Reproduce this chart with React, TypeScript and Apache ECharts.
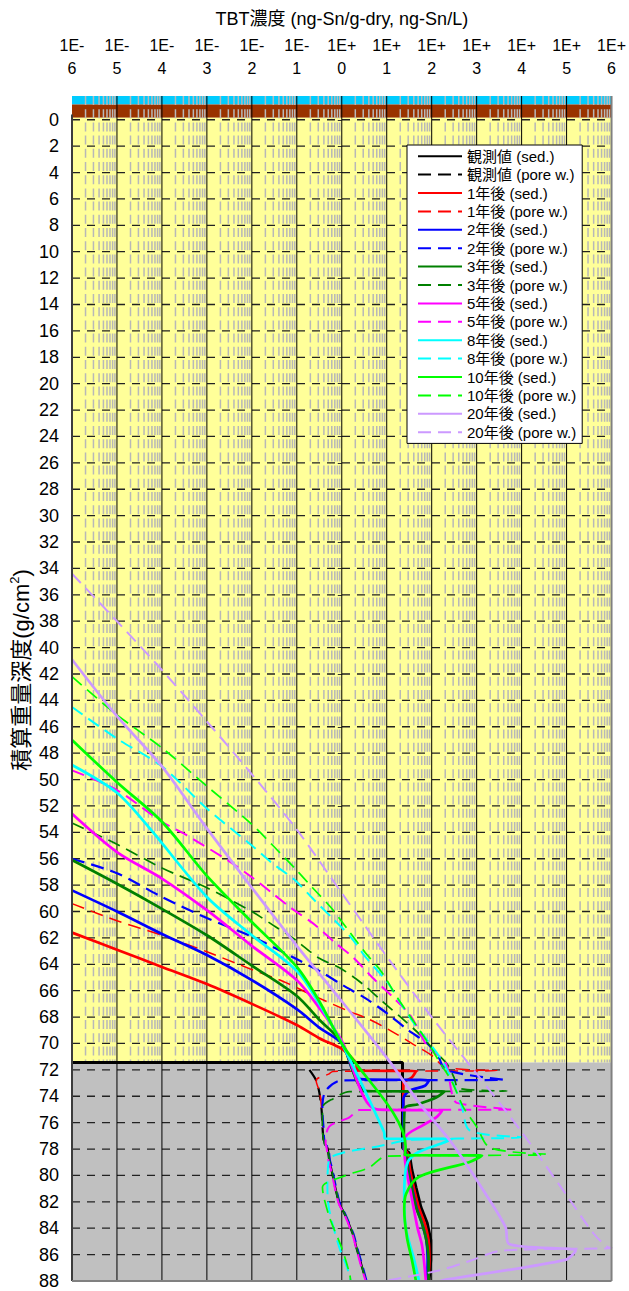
import React, { useEffect, useRef } from 'react';
import * as echarts from 'echarts';

const FONT = "'Liberation Sans', Arial, 'Noto Sans CJK JP', sans-serif";

// ---- axis tick labels ----
const X_EXPONENTS = [-6, -5, -4, -3, -2, -1, 0, 1, 2, 3, 4, 5, 6];
const DEPTH_TICKS = [0, 2, 4, 6, 8, 10, 12, 14, 16, 18, 20, 22, 24, 26, 28, 30, 32, 34, 36, 38, 40, 42, 44, 46, 48, 50, 52, 54, 56, 58, 60, 62, 64, 66, 68, 70, 72, 74, 76, 78, 80, 82, 84, 86, 88];
const DECADE_BASES = [1e-6, 1e-5, 1e-4, 1e-3, 1e-2, 1e-1, 1, 10, 100, 1e3, 1e4, 1e5];
const MINOR_STEPS = [2, 3, 4, 5, 6, 7, 8, 9];
const X_MIN = 1e-6;
const X_MAX = 1e6;
const Y_TOP = -1.8;
const Y_BOTTOM = 88;
const SURFACE = 71.45; // sediment surface (yellow / gray boundary)

// ---- data: [concentration, cumulative weight depth] ----
const OBS_SED = [[1e-6, 71.45], [22.4, 71.45], [22.4, 77.9], [31.6, 78.3], [36.3, 79.6], [44.7, 80.9], [57.5, 82.4], [79.4, 83.6], [95.5, 84.9], [95.5, 86.4], [87.1, 88]];
const OBS_PORE = [[0.191, 72.0], [0.269, 72.8], [0.316, 73.7], [0.355, 75.0], [0.372, 76.3], [0.407, 77.6], [0.479, 77.9], [0.525, 78.8], [0.575, 79.4], [0.871, 82.1], [1.15, 82.9], [1.74, 84.4], [2.09, 85.4], [2.69, 86.7], [3.47, 88]];

const Y1_SED = [[1e-6, 61.6], [1e-5, 62.9], [1e-4, 64.2], [1e-3, 65.5], [0.01, 67.0], [0.1, 68.6], [0.316, 69.6], [1, 70.4], [1.58, 71.0], [2.09, 71.5], [2.24, 72.05], [44.7, 72.1], [35.5, 72.6], [23.4, 73.0], [23.4, 77.9], [28.8, 78.3], [33.1, 79.6], [39.8, 80.9], [51.3, 82.4], [69.2, 83.6], [85.1, 84.9], [89.1, 86.4], [83.2, 88]];
const Y1_PORE = [[1e-6, 59.4], [1e-5, 60.7], [1e-4, 61.8], [1e-3, 63.05], [0.01, 64.4], [0.0501, 65.3], [0.182, 66.2], [1.32, 67.5], [4.27, 68.2], [13.2, 69.1], [40.7, 70.1], [100, 70.9], [204, 71.8], [2818, 72.05], [0.631, 72.12], [0.525, 72.3], [0.269, 72.8], [0.32, 73.7], [0.36, 75.0], [0.38, 76.3], [0.42, 77.6], [0.49, 77.9], [0.54, 78.8], [0.59, 79.4], [0.89, 82.1], [1.17, 82.9], [1.78, 84.4], [2.14, 85.4], [2.75, 86.7], [3.5, 88]];

const Y2_SED = [[1e-6, 58.4], [1e-5, 60.0], [1e-4, 61.7], [1e-3, 63.3], [0.01, 65.2], [0.1, 67.4], [0.316, 68.8], [1, 70.0], [2.63, 72.7], [87.1, 72.8], [70.8, 73.2], [31.6, 73.6], [23.4, 74.2], [23.4, 77.9], [26.9, 78.3], [30.2, 79.6], [36.3, 80.9], [45.7, 82.4], [60.3, 83.6], [75.9, 84.9], [81.3, 86.4], [79.4, 88]];
const Y2_PORE = [[1e-6, 56.0], [1e-5, 57.1], [1e-4, 58.9], [1e-3, 60.5], [0.01, 61.9], [0.112, 63.7], [0.355, 64.6], [1.07, 65.6], [3.47, 66.6], [10, 67.7], [30.2, 69.0], [79.4, 70.0], [141, 71.0], [204, 72.0], [3981, 72.75], [1, 72.8], [0.437, 73.6], [0.37, 75.0], [0.39, 76.3], [0.42, 77.6], [0.5, 77.9], [0.54, 78.8], [0.6, 79.4], [0.9, 82.1], [1.18, 82.9], [1.8, 84.4], [2.16, 85.4], [2.8, 86.7], [3.55, 88]];

const Y3_SED = [[1e-6, 56.1], [1e-5, 57.9], [1e-4, 59.8], [1e-3, 61.8], [0.01, 64.1], [0.1, 66.4], [0.316, 68.2], [1, 69.9], [3.63, 73.6], [191, 73.65], [126, 74.1], [50.1, 74.6], [25.1, 74.9], [24.0, 77.9], [26.3, 78.3], [29.5, 79.6], [35.5, 80.9], [44.7, 82.4], [60.3, 83.6], [75.9, 84.9], [85.1, 86.4], [85.1, 88]];
const Y3_PORE = [[1e-6, 53.3], [1e-5, 54.9], [1e-4, 56.7], [1e-3, 58.2], [0.01, 60.0], [0.0316, 61.1], [0.0891, 62.1], [0.302, 63.5], [0.933, 64.3], [2.69, 65.4], [7.94, 66.8], [21.9, 68.1], [61.7, 69.5], [126, 70.7], [224, 71.6], [316, 72.6], [398, 73.4], [4677, 73.6], [1.48, 73.65], [0.631, 74.2], [0.38, 74.8], [0.37, 76.3], [0.41, 77.6], [0.48, 77.9], [0.53, 78.8], [0.58, 79.4], [0.88, 82.1], [1.16, 82.9], [1.76, 84.4], [2.1, 85.4], [2.7, 86.7], [3.47, 88]];

const Y5_SED = [[1e-6, 52.6], [1e-5, 55.5], [1e-4, 57.5], [1e-3, 59.9], [0.01, 62.6], [0.1, 65.2], [0.316, 67.3], [1, 69.8], [6.03, 75.0], [170, 75.1], [126, 75.6], [63.1, 76.2], [26.3, 77.1], [25.1, 78.5], [28.8, 80.0], [34.7, 81.4], [47.9, 83.9], [61.7, 85.4], [74.1, 88]];
const Y5_PORE = [[1e-6, 49.3], [1e-5, 50.8], [1e-4, 53.2], [3.47e-4, 54.2], [3.16e-3, 56.2], [0.01, 57.4], [0.0282, 58.6], [0.0794, 59.8], [0.251, 61.0], [0.676, 62.3], [1.82, 63.5], [4.79, 65.0], [13.8, 66.5], [35.5, 68.0], [83.2, 70.3], [200, 71.4], [282, 73.8], [363, 74.5], [6166, 75.0], [2.45, 75.05], [1.48, 75.6], [0.525, 76.3], [0.437, 77.6], [0.46, 77.9], [0.5, 78.8], [0.56, 79.4], [0.85, 82.1], [1.12, 82.9], [1.7, 84.4], [2.05, 85.4], [2.6, 86.7], [3.4, 88]];

const Y8_SED = [[1e-6, 48.9], [1e-5, 51.0], [5.37e-5, 53.7], [1e-3, 58.9], [0.01, 61.8], [0.1, 64.5], [0.316, 67.0], [1, 70.0], [8.71, 76.7], [9.12, 77.2], [282, 77.25], [158, 77.6], [52.5, 78.2], [31.6, 78.8], [26.3, 79.6], [24.5, 81.4], [26.3, 83.9], [40.7, 86.4], [52.5, 88]];
const Y8_PORE = [[1e-6, 44.5], [1e-5, 46.9], [1e-4, 49.0], [1e-3, 52.2], [0.01, 55.0], [0.0275, 56.3], [0.0891, 57.6], [0.224, 59.0], [0.617, 60.5], [1.55, 61.9], [3.47, 63.5], [10, 65.3], [20, 66.9], [40.7, 68.5], [91.2, 70.0], [186, 71.5], [316, 73.2], [468, 74.8], [708, 76.6], [9333, 77.1], [36.3, 77.3], [6.31, 77.8], [1.02, 78.3], [0.525, 78.8], [0.479, 80.9], [0.525, 82.6], [0.871, 85.4], [1.32, 87.0], [1.58, 88]];

const Y10_SED = [[1e-6, 47.0], [1e-5, 50.2], [1e-4, 53.2], [1e-3, 57.3], [0.01, 60.8], [0.1, 64.2], [0.316, 66.8], [1, 70.0], [26.3, 77.8], [25.1, 78.45], [1318, 78.5], [676, 79.0], [52.5, 80.1], [26.9, 81.4], [24.5, 82.6], [28.2, 84.7], [36.3, 86.4], [44.7, 88]];
const Y10_PORE = [[1e-6, 42.2], [1e-5, 45.1], [1e-4, 47.6], [1e-3, 50.5], [0.01, 53.4], [0.0407, 55.5], [0.0891, 56.7], [0.224, 58.2], [0.575, 59.7], [1.38, 61.4], [3.31, 63.1], [7.76, 64.6], [17.0, 66.5], [33.9, 68.0], [74.1, 69.7], [155, 71.5], [282, 72.9], [501, 74.8], [1000, 76.3], [1995, 77.9], [36308, 78.4], [9.55, 78.55], [4.07, 79.4], [1.02, 80.1], [0.372, 80.9], [0.525, 83.1], [1, 85.5], [1.48, 87.4], [1.58, 88]];

const Y20_SED = [[1e-6, 40.9], [1e-5, 45.2], [1e-4, 49.0], [1e-3, 53.7], [0.01, 58.2], [0.1, 62.6], [1, 66.8], [11.2, 71.3], [52.5, 74.5], [288, 77.6], [1585, 81.4], [4365, 83.9], [5248, 85.2], [158489, 85.7], [93325, 86.4], [204, 87.9], [158, 88]];
const Y20_PORE = [[1e-6, 34.4], [1e-5, 38.0], [1e-4, 41.7], [1e-3, 45.6], [0.01, 49.6], [0.1, 53.8], [1, 58.6], [10, 63.4], [100, 68.0], [1000, 72.3], [1e4, 76.7], [1e5, 81.5], [3.98e5, 84.4], [7.94e5, 85.4], [1e6, 85.5], [3631, 85.7], [676, 86.5], [145, 87.2], [11.2, 87.95]];

// ---- series table (styles kept separate from values) ----
const DASH = [13, 7];
const SERIES_DEFS = [
  { name: '観測値 (sed.)', data: OBS_SED, color: '#000000', dashed: false, width: 3, smooth: false },
  { name: '観測値 (pore w.)', data: OBS_PORE, color: '#000000', dashed: true, width: 2.2, smooth: true },
  { name: '1年後 (sed.)', data: Y1_SED, color: '#FF0000', dashed: false, width: 2.7, smooth: true },
  { name: '1年後 (pore w.)', data: Y1_PORE, color: '#FF0000', dashed: true, width: 1.5, smooth: true },
  { name: '2年後 (sed.)', data: Y2_SED, color: '#0000FF', dashed: false, width: 2.7, smooth: true },
  { name: '2年後 (pore w.)', data: Y2_PORE, color: '#0000FF', dashed: true, width: 2.2, smooth: true },
  { name: '3年後 (sed.)', data: Y3_SED, color: '#008000', dashed: false, width: 2.7, smooth: true },
  { name: '3年後 (pore w.)', data: Y3_PORE, color: '#008000', dashed: true, width: 1.7, smooth: true },
  { name: '5年後 (sed.)', data: Y5_SED, color: '#FF00FF', dashed: false, width: 2.7, smooth: true },
  { name: '5年後 (pore w.)', data: Y5_PORE, color: '#FF00FF', dashed: true, width: 2, smooth: true },
  { name: '8年後 (sed.)', data: Y8_SED, color: '#00FFFF', dashed: false, width: 2.7, smooth: true },
  { name: '8年後 (pore w.)', data: Y8_PORE, color: '#00FFFF', dashed: true, width: 2, smooth: true },
  { name: '10年後 (sed.)', data: Y10_SED, color: '#00FF00', dashed: false, width: 2.7, smooth: true },
  { name: '10年後 (pore w.)', data: Y10_PORE, color: '#00FF00', dashed: true, width: 1.7, smooth: true },
  { name: '20年後 (sed.)', data: Y20_SED, color: '#CC99FF', dashed: false, width: 2.7, smooth: true },
  { name: '20年後 (pore w.)', data: Y20_PORE, color: '#CC99FF', dashed: true, width: 2, smooth: true },
];

const BAND_COLORS = ['#00CCFF', '#993300', '#FFFF99', '#C0C0C0'];

function segmentSeries(name: string, rows: number[][], z: number, style: any) {
  return {
    type: 'custom',
    name,
    xAxisIndex: 0,
    yAxisIndex: 0,
    z,
    silent: true,
    encode: { x: [0, 2], y: [1, 3] },
    data: rows,
    renderItem: (_params: any, api: any) => {
      const a = api.coord([api.value(0), api.value(1)]);
      const b = api.coord([api.value(2), api.value(3)]);
      return {
        type: 'line',
        shape: { x1: a[0], y1: a[1], x2: b[0], y2: b[1] },
        style: { ...style, fill: null },
      };
    },
  };
}

function buildOption() {
  const bandRows = [
    [X_MIN, Y_TOP, X_MAX, -1.15, 0],
    [X_MIN, -1.15, X_MAX, -0.15, 1],
    [X_MIN, -0.15, X_MAX, SURFACE, 2],
    [X_MIN, SURFACE, X_MAX, Y_BOTTOM, 3],
  ];
  const minorRows: number[][] = [];
  DECADE_BASES.forEach((b) => MINOR_STEPS.forEach((m) => minorRows.push([b * m, Y_TOP, b * m, SURFACE])));
  const decadeRows = DECADE_BASES.slice(1).map((b) => [b, Y_TOP, b, Y_BOTTOM]);
  const hRows = DEPTH_TICKS.filter((d) => d < Y_BOTTOM).map((d) => [X_MIN, d, X_MAX, d]);

  const dataSeries = SERIES_DEFS.map((s) => ({
    type: 'line',
    name: s.name,
    data: s.data,
    xAxisIndex: 0,
    yAxisIndex: 0,
    z: 3,
    symbol: 'none',
    showSymbol: false,
    silent: true,
    clip: true,
    smooth: s.smooth ? 0.3 : false,
    lineStyle: { color: s.color, width: s.width, type: s.dashed ? DASH : 'solid' },
    itemStyle: { color: s.color, opacity: 0 },
  }));

  return {
    animation: false,
    backgroundColor: '#ffffff',
    textStyle: { fontFamily: FONT, color: '#000' },
    grid: { left: 72, right: 15, top: 96, bottom: 10, containLabel: false },
    xAxis: [
      { type: 'log', logBase: 10, min: X_MIN, max: X_MAX, position: 'bottom', show: false },
      {
        type: 'value',
        min: X_EXPONENTS[0],
        max: X_EXPONENTS[X_EXPONENTS.length - 1],
        interval: 1,
        position: 'top',
        name: 'TBT濃度 (ng-Sn/g-dry, ng-Sn/L)',
        nameLocation: 'middle',
        nameGap: 68,
        nameTextStyle: { fontSize: 18, color: '#000', fontFamily: FONT },
        axisLine: { show: false },
        axisTick: { show: false },
        splitLine: { show: false },
        axisLabel: {
          formatter: (v: number) => (v < 0 ? `1E-\n${-v}` : `1E+\n${v}`),
          fontSize: 16,
          lineHeight: 23,
          margin: 16,
          color: '#000',
          fontFamily: FONT,
        },
      },
    ],
    yAxis: {
      type: 'value',
      inverse: true,
      min: Y_TOP,
      max: Y_BOTTOM,
      axisLine: { show: false },
      splitLine: { show: false },
      axisTick: { show: true, customValues: DEPTH_TICKS, length: 4, lineStyle: { color: '#333' } },
      axisLabel: { customValues: DEPTH_TICKS, fontSize: 18, margin: 13, color: '#000', fontFamily: FONT },
    },
    legend: {
      data: SERIES_DEFS.map((s) => s.name),
      orient: 'vertical',
      left: 407,
      top: 145,
      itemWidth: 44,
      itemHeight: 2,
      itemGap: 0,
      padding: [2, 6, 2, 10],
      backgroundColor: '#ffffff',
      borderColor: '#000000',
      borderWidth: 1,
      borderRadius: 0,
      selectedMode: false,
      z: 10,
      itemStyle: { opacity: 0, borderWidth: 0 },
      textStyle: { fontSize: 15, lineHeight: 18.4, color: '#000', fontFamily: FONT },
    },
    graphic: [
      {
        type: 'text',
        x: 21,
        y: 670,
        rotation: Math.PI / 2,
        style: {
          text: '{a|積算重量深度(g/cm}{b|2}{a|)}',
          rich: {
            a: { fontSize: 22, fontFamily: FONT, fill: '#000', lineHeight: 26 },
            b: { fontSize: 13, fontFamily: FONT, fill: '#000', verticalAlign: 'top', lineHeight: 26 },
          },
          align: 'center',
          verticalAlign: 'middle',
          textAlign: 'center',
          textVerticalAlign: 'middle',
          fill: '#000',
        },
      },
    ],
    series: [
      {
        type: 'custom',
        name: 'bands',
        xAxisIndex: 0,
        yAxisIndex: 0,
        z: 0,
        silent: true,
        encode: { x: [0, 2], y: [1, 3] },
        data: bandRows,
        renderItem: (_p: any, api: any) => {
          const a = api.coord([api.value(0), api.value(1)]);
          const b = api.coord([api.value(2), api.value(3)]);
          return {
            type: 'rect',
            shape: { x: a[0], y: a[1], width: b[0] - a[0], height: b[1] - a[1] },
            style: { fill: BAND_COLORS[api.value(4)] },
          };
        },
      },
      segmentSeries('minor', minorRows, 1, { stroke: '#b8b8b8', lineWidth: 1.5, lineDash: [9, 4.2] }),
      segmentSeries('hgrid', hRows, 1, { stroke: '#222222', lineWidth: 1.3, lineDash: [8, 7] }),
      segmentSeries('decades', decadeRows, 1, { stroke: '#000000', lineWidth: 1 }),
      ...dataSeries,
      segmentSeries('frameLeft', [[X_MIN, -0.4, X_MIN, Y_BOTTOM]], 5, { stroke: '#3c3c3c', lineWidth: 2 }),
      segmentSeries('frameRight', [[X_MAX, Y_TOP, X_MAX, Y_BOTTOM]], 5, { stroke: '#808080', lineWidth: 2 }),
      segmentSeries('frameBottom', [[X_MIN, Y_BOTTOM, X_MAX, Y_BOTTOM]], 5, { stroke: '#808080', lineWidth: 2 }),
    ],
  };
}

export default function App() {
  const ref = useRef<HTMLDivElement>(null);
  useEffect(() => {
    if (!ref.current) return;
    const chart = echarts.init(ref.current, null, { renderer: 'svg' });
    chart.setOption(buildOption() as any);
    return () => chart.dispose();
  }, []);
  return (
    <div
      ref={ref}
      style={{ position: 'fixed', left: 0, top: 0, width: 629, height: 1291, background: '#fff' }}
    />
  );
}
